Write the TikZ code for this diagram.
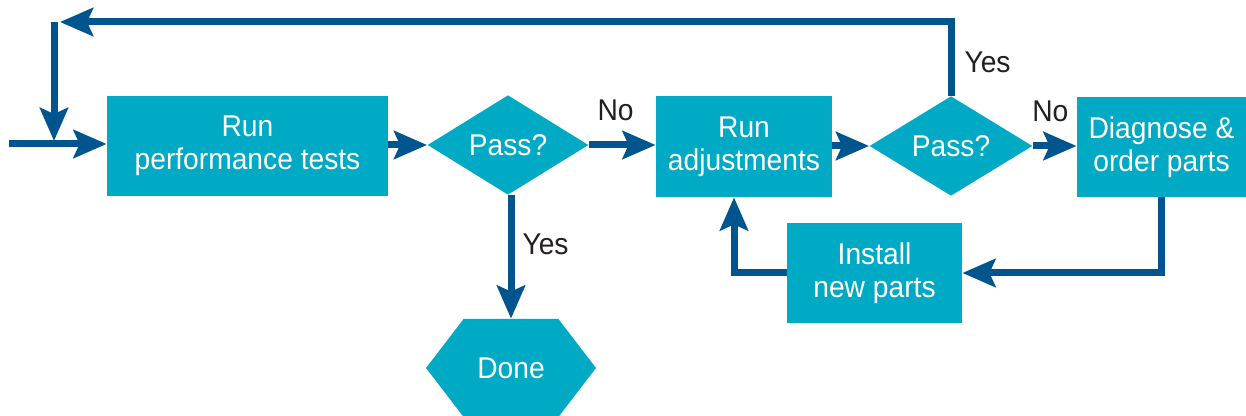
\documentclass[tikz,border=0pt]{standalone}
\usepackage{fontspec}
\setmainfont{Liberation Sans}[FakeStretch=0.94]
\usetikzlibrary{arrows.meta,shapes.geometric,shapes.symbols}
\definecolor{boxcyan}{HTML}{00A9C4}
\definecolor{arrowblue}{HTML}{00558F}
\definecolor{labelblack}{HTML}{231F20}
\tikzset{
  flow/.style={draw=arrowblue,line width=3.5pt,
    -{Stealth[length=16.5pt,width=14pt,inset=3pt,fill=arrowblue]}},
  lbl/.style={text=labelblack,inner sep=0pt,font=\fontsize{15}{16.5}\selectfont}
}
\begin{document}
\begin{tikzpicture}[x=0.5pt,y=-0.5pt]

        \useasboundingbox (0,0) rectangle (1246,416);

        \begin{scope}[every node/.style={fill=boxcyan,text=white,align=center,inner sep=0pt,
            font=\fontsize{15}{16.5}\selectfont}]
          \node[minimum width=140.5pt,minimum height=50pt] (run) at (247.5,146) {Run\\performance tests};
          \node[diamond,minimum width=80.5pt,minimum height=49pt] (pass1) at (508,145) {Pass?};
          \node[minimum width=88pt,minimum height=50.5pt] (adjust) at (744,146.5) {Run\\adjustments};
          \node[diamond,minimum width=81.5pt,minimum height=49pt] (pass2) at (951,146) {Pass?};
          \node[minimum width=84.5pt,minimum height=50pt] (diag) at (1161.5,147) {Diagnose \&\\order parts};
          \node[minimum width=87.5pt,minimum height=50pt] (install) at (874.5,273) {Install\\new parts};
          \node[signal,signal to=west and east,signal pointer angle=105,
            minimum width=85pt,minimum height=49pt] (done) at (511,368) {Done};
        \end{scope}

        \coordinate (entry)   at (9,144);
        \coordinate (join)    at (54,141);
        \coordinate (topleft) at (54,22);
        \coordinate (loopend) at (60,22);

        \draw[flow] (entry) -- (run.west |- entry);
        \draw[flow] (topleft) -- (join);
        %\draw[flow] (pass2.north) |- (topleft);
        \draw[flow] (pass2.north) |- node[lbl,right=5pt,pos=0.23] {Yes} (loopend);

        \path (run.east |- pass1.west) edge[flow] (pass1.west);
        \path (pass1.east) edge[flow] node[lbl,above=10.5pt,pos=0.4] {No} (adjust.west |- pass1.east);
        \path (done.north |- pass1.south) edge[flow] node[lbl,right=4pt,pos=0.4] {Yes} (done.north);
        \path (adjust.east |- pass2.west) edge[flow] (pass2.west);
        \path (pass2.east) edge[flow] node[lbl,above=10.5pt,pos=0.4] {No} (diag.west |- pass2.east);

        \draw[flow] (diag.south) |- (install.east);
        \draw[flow] (install.west) -| ([xshift=-5pt]adjust.south);

      \end{tikzpicture}
\end{document}
